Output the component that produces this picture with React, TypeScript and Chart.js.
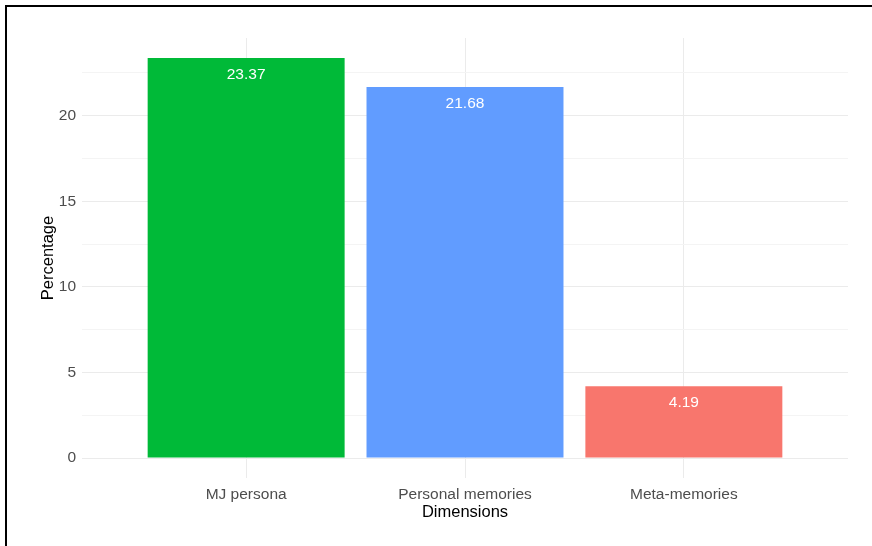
import React, { useEffect, useRef } from "react";
import { Chart, registerables } from "chart.js";

Chart.register(...registerables);

const categories = ["MJ persona", "Personal memories", "Meta-memories"];
const values = [23.37, 21.68, 4.19];
const barColors = ["#00BA38", "#619CFF", "#F8766D"];
const yTicks = [0, 2.5, 5, 7.5, 10, 12.5, 15, 17.5, 20, 22.5];
const yTickLabels = ["0", "", "5", "", "10", "", "15", "", "20", ""];
const xTitle = "Dimensions";
const yTitle = "Percentage";

const FONT = "'Liberation Sans', Arial, sans-serif";

const framePlugin = {
  id: "frame",
  beforeDraw(chart: any) {
    const { ctx } = chart;
    ctx.save();
    ctx.fillStyle = "#ffffff";
    ctx.fillRect(0, 0, chart.width, chart.height);
    ctx.fillStyle = "#000000";
    ctx.fillRect(5, 5, chart.width - 5, 2);
    ctx.fillRect(5, 5, 2, chart.height - 5);
    ctx.restore();
  },
};

const valueLabelPlugin = {
  id: "valueLabels",
  afterDatasetsDraw(chart: any) {
    const { ctx } = chart;
    const meta = chart.getDatasetMeta(0);
    ctx.save();
    ctx.fillStyle = "#ffffff";
    ctx.font = `15.5px ${FONT}`;
    ctx.textAlign = "center";
    ctx.textBaseline = "alphabetic";
    meta.data.forEach((bar: any, i: number) => {
      ctx.fillText(values[i].toFixed(2), bar.x, bar.y + 21);
    });
    ctx.restore();
  },
};

export default function App() {
  const ref = useRef<HTMLCanvasElement | null>(null);

  useEffect(() => {
    if (!ref.current) return;
    const maxVal = Math.max(...values);
    const chart = new Chart(ref.current, {
      type: "bar",
      data: {
        datasets: [
          {
            data: values.map((v, i) => ({ x: i + 1, y: v })),
            backgroundColor: barColors,
            borderWidth: 0,
            barPercentage: 0.9,
            categoryPercentage: 1,
          },
        ],
      },
      options: {
        responsive: false,
        animation: false,
        layout: { padding: { top: 38, right: 24, bottom: 0, left: 0 } },
        plugins: {
          legend: { display: false },
          tooltip: { enabled: false },
        },
        scales: {
          x: {
            type: "linear",
            offset: false,
            min: 0.25,
            max: categories.length + 0.75,
            afterBuildTicks(scale: any) {
              scale.ticks = categories.map((_, i) => ({ value: i + 1 }));
            },
            afterFit(scale: any) {
              scale.height = 68;
            },
            ticks: {
              autoSkip: false,
              maxRotation: 0,
              padding: 7,
              color: "#4d4d4d",
              font: { family: FONT, size: 15.5 },
              callback: (v: any) => categories[Math.round(Number(v)) - 1] ?? "",
            },
            grid: { offset: false, color: "#ebebeb", drawTicks: false, lineWidth: 1 },
            border: { display: false },
            title: {
              display: true,
              text: xTitle,
              color: "#000000",
              font: { family: FONT, size: 16.5 },
              padding: { top: 0, bottom: 24 },
            },
          },
          y: {
            type: "linear",
            min: -maxVal * 0.05,
            max: maxVal * 1.05,
            afterBuildTicks(scale: any) {
              scale.ticks = yTicks.map((v) => ({ value: v }));
            },
            afterFit(scale: any) {
              scale.width = 82;
            },
            ticks: {
              autoSkip: false,
              padding: 6,
              color: "#4d4d4d",
              font: { family: FONT, size: 15.5 },
              callback: (v: any) => {
                const idx = yTicks.indexOf(Number(v));
                return idx >= 0 ? yTickLabels[idx] : "";
              },
            },
            grid: {
              drawTicks: false,
              color: (ctx: any) =>
                ctx.tick && ctx.tick.value % 5 === 0 ? "#ebebeb" : "#f4f4f4",
              lineWidth: 1,
            },
            border: { display: false },
            title: {
              display: true,
              text: yTitle,
              color: "#000000",
              font: { family: FONT, size: 16.5 },
              padding: { top: 39, bottom: 0 },
            },
          },
        },
      },
      plugins: [framePlugin, valueLabelPlugin],
    } as any);
    return () => chart.destroy();
  }, []);

  return (
    <div style={{ position: "fixed", left: 0, top: 0, width: 872, height: 546 }}>
      <canvas ref={ref} width={872} height={546} style={{ display: "block" }} />
    </div>
  );
}
